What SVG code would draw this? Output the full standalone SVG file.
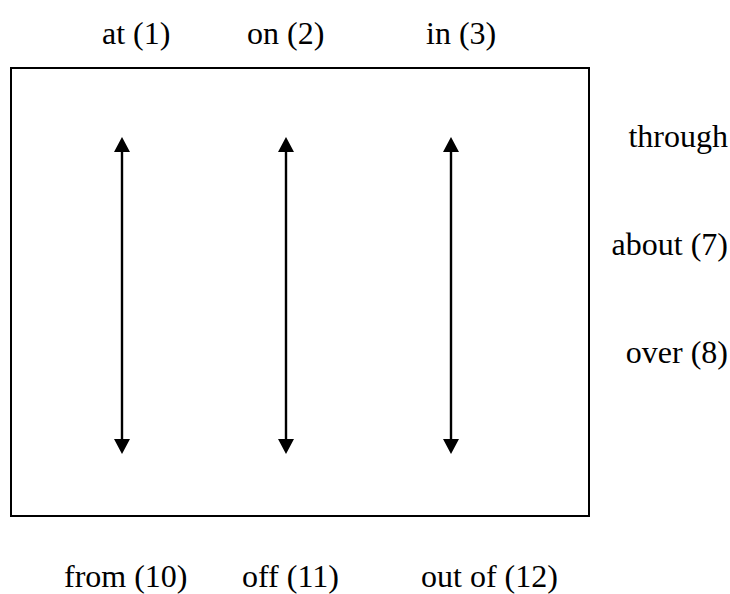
<svg xmlns="http://www.w3.org/2000/svg" width="730" height="594" viewBox="0 0 730 594">
<style>
text { font-family: "Liberation Serif", "Times New Roman", serif; font-size: 32px; fill: #000; }
.r { text-anchor: end; }
.frame { fill: none; stroke: #000; stroke-width: 2; }
.arr { stroke: #000; stroke-width: 2.4; fill: none; marker-start: url(#ah); marker-end: url(#ah); }
</style>
<defs>
<marker id="ah" viewBox="0 0 15 16" refX="0" refY="8" markerWidth="15" markerHeight="16" markerUnits="userSpaceOnUse" orient="auto-start-reverse">
<path d="M0,0 L15,8 L0,16 z" fill="#000"/>
</marker>
</defs>
<g id="frame"><rect class="frame" x="11" y="68" width="578" height="448"/></g>
<g id="top-labels">
<g id="at"><text x="102" y="44">at (1)</text></g>
<g id="on"><text x="247" y="44">on (2)</text></g>
<g id="in"><text x="426" y="44">in (3)</text></g>
</g>
<g id="right-labels">
<g id="through"><text class="r" x="728" y="147">through</text></g>
<g id="about"><text class="r" x="728" y="255">about (7)</text></g>
<g id="over"><text class="r" x="728" y="363">over (8)</text></g>
</g>
<g id="bottom-labels">
<g id="from"><text x="64" y="587">from (10)</text></g>
<g id="off"><text x="242" y="587">off (11)</text></g>
<g id="outof"><text x="421" y="587">out of (12)</text></g>
</g>
<g id="connectors">
<line class="arr" x1="122" y1="152" x2="122" y2="439"/>
<line class="arr" x1="286" y1="152" x2="286" y2="439"/>
<line class="arr" x1="451" y1="152" x2="451" y2="439"/>
</g>
</svg>
